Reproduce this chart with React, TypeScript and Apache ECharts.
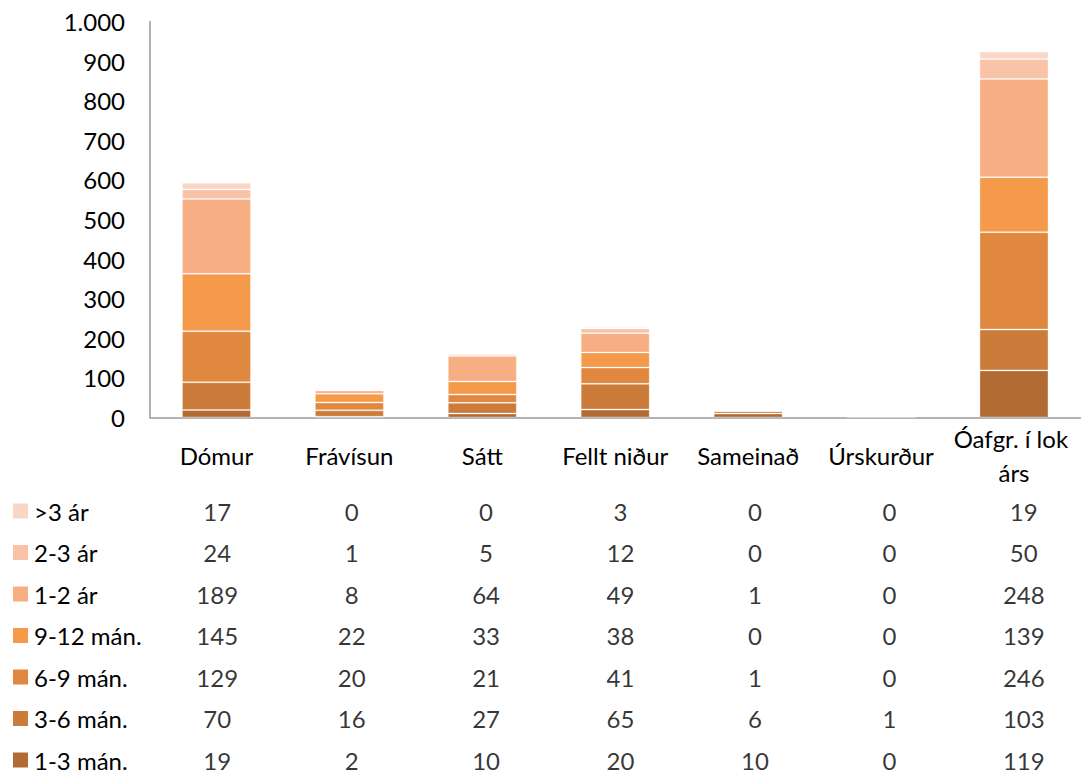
import React, { useEffect, useRef } from "react";
import * as echarts from "echarts";

const categories = ["Dómur", "Frávísun", "Sátt", "Fellt niður", "Sameinað", "Úrskurður", "Óafgr. í lok árs"];
const seriesNames = ["1-3 mán.", "3-6 mán.", "6-9 mán.", "9-12 mán.", "1-2 ár", "2-3 ár", ">3 ár"];
const m1to3 = [19, 2, 10, 20, 10, 0, 119];
const m3to6 = [70, 16, 27, 65, 6, 1, 103];
const m6to9 = [129, 20, 21, 41, 1, 0, 246];
const m9to12 = [145, 22, 33, 38, 0, 0, 139];
const y1to2 = [189, 8, 64, 49, 1, 0, 248];
const y2to3 = [24, 1, 5, 12, 0, 0, 50];
const y3plus = [17, 0, 0, 3, 0, 0, 19];
const seriesValues = [m1to3, m3to6, m6to9, m9to12, y1to2, y2to3, y3plus];
const colors = ["#B26B33", "#CB7B3A", "#E08840", "#F5994A", "#F7AE82", "#F9C3A8", "#FAD6C6"];
const yMin = 0;
const yMax = 1000;
const yInterval = 100;

const FONT = "Lato, 'Open Sans', sans-serif";
const FS = 24;

export default function App() {
  const ref = useRef<HTMLDivElement>(null);
  useEffect(() => {
    if (!ref.current) return;
    const chart = echarts.init(ref.current, undefined, { renderer: "svg" });
    const rich: any = { t: { fontSize: FS, fontFamily: FONT, color: "#000", padding: [0, 0, 0, 6] } };
    seriesNames.forEach((_, i) => {
      rich["s" + i] = { width: 15, height: 15, backgroundColor: colors[i] };
    });
    const barSeries = seriesNames.map((name, i) => ({
      name,
      type: "bar",
      stack: "total",
      xAxisIndex: 0,
      yAxisIndex: 0,
      barWidth: 69,
      data: seriesValues[i].map((v) => (v === 0 ? "-" : v)),
      itemStyle: { color: colors[i], borderColor: "rgba(255,255,255,0.3)", borderWidth: 1 },
    }));
    const tableData: any[] = [];
    seriesValues.forEach((vals, s) => {
      vals.forEach((v, c) => tableData.push([c, s, v]));
    });
    const option: any = {
      animation: false,
      textStyle: { fontFamily: FONT },
      grid: [
        { left: 150, right: -3, top: 21.5, bottom: 355.5 },
        { left: 150, right: -3, top: 511, bottom: 13 },
      ],
      xAxis: [
        {
          type: "category",
          gridIndex: 0,
          data: categories,
          axisLine: { lineStyle: { color: "#9A9A9A", width: 1.5 } },
          axisTick: { show: false },
          axisLabel: {
            interval: 0,
            color: "#000",
            fontSize: FS,
            fontFamily: FONT,
            margin: 37.5,
            verticalAlign: "middle",
            lineHeight: 34,
            width: 150,
            overflow: "break",
          },
        },
        {
          type: "category",
          gridIndex: 1,
          data: categories,
          show: false,
        },
      ],
      yAxis: [
        {
          type: "value",
          gridIndex: 0,
          min: yMin,
          max: yMax,
          interval: yInterval,
          splitLine: { show: false },
          axisLine: { show: true, lineStyle: { color: "#9A9A9A", width: 1.5 } },
          axisTick: { show: false },
          axisLabel: {
            color: "#000",
            fontSize: FS,
            fontFamily: FONT,
            margin: 25,
            formatter: (v: number) => String(v).replace(/\B(?=(\d{3})+(?!\d))/g, "."),
          },
        },
        {
          type: "category",
          gridIndex: 1,
          data: seriesNames,
          boundaryGap: false,
          axisLine: { show: false },
          axisTick: { show: false },
          splitLine: { show: false },
          axisLabel: {
            interval: 0,
            align: "left",
            margin: 137,
            formatter: (v: string, idx: number) => `{s${idx}|}{t|${v}}`,
            rich,
          },
        },
      ],
      series: [
        ...barSeries,
        {
          type: "scatter",
          xAxisIndex: 1,
          yAxisIndex: 1,
          symbolSize: 1,
          itemStyle: { color: "transparent" },
          data: tableData,
          label: {
            show: true,
            position: "inside",
            color: "#000",
            fontSize: FS,
            fontFamily: FONT,
            formatter: (p: any) => String(p.value[2]),
          },
        },
      ],
    };
    chart.setOption(option);
    return () => chart.dispose();
  }, []);
  return <div ref={ref} style={{ position: "absolute", left: 0, top: 0, width: 1091, height: 773, background: "#fff" }} />;
}
